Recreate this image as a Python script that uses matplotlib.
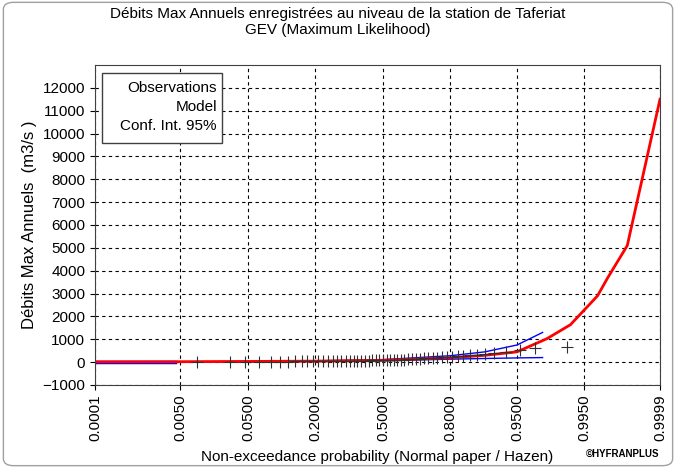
import numpy as np
import matplotlib
matplotlib.use("Agg")
import matplotlib.pyplot as plt
from matplotlib.patches import FancyBboxPatch, Rectangle

plt.rcParams['font.family'] = ['Liberation Sans Narrow', 'Liberation Sans', 'DejaVu Sans']

# probability ticks and their (unequal) spacing on the HYFRAN paper
prob_ticks = [0.0001, 0.005, 0.05, 0.2, 0.5, 0.8, 0.95, 0.995, 0.9999]
tick_labels = ['0.0001', '0.0050', '0.0500', '0.2000', '0.5000', '0.8000', '0.9500', '0.9950', '0.9999']
tick_pos = [95, 180, 248, 315, 383, 450, 517, 584, 660]

# model (GEV) quantiles
model_p = [0.0001, 0.005, 0.05, 0.2, 0.5, 0.8, 0.9, 0.95, 0.982, 0.992, 0.9975, 0.9985, 0.99946, 0.9999]
model_q = [15, 20, 30, 45, 80, 190, 300, 450, 1030, 1640, 2900, 3670, 5100, 11500]

# 95% confidence interval
ci_p = [0.0001, 0.005, 0.05, 0.2, 0.5, 0.8, 0.9, 0.95, 0.979]
ci_up = [5, 15, 30, 55, 110, 280, 450, 750, 1300]
ci_low = [-15, -5, 10, 30, 60, 130, 160, 185, 200]

# observations (sorted), plotted at Hazen positions
obs_q = [10, 14, 18, 20, 22, 25, 27, 30, 32, 35, 37, 40, 42, 45, 48, 50, 52, 55, 58,
         60, 62, 65, 68, 70, 75, 78, 80, 85, 90, 95, 100, 105, 110, 115, 120, 130, 140,
         150, 160, 170, 180, 195, 210, 225, 240, 260, 280, 300, 330, 360, 400, 450, 520,
         600, 680]
n = len(obs_q)
obs_p = [(i + 0.5) / n for i in range(n)]

def logit(p):
    p = np.asarray(p, dtype=float)
    return np.log(p / (1 - p))

lt = logit(prob_ticks)

def fwd(p):
    p = np.clip(np.asarray(p, dtype=float), 1e-9, 1 - 1e-9)
    return np.interp(logit(p), lt, tick_pos)

def inv(x):
    l = np.interp(np.asarray(x, dtype=float), tick_pos, lt)
    return 1 / (1 + np.exp(-l))

fig = plt.figure(figsize=(6.76, 4.68), dpi=100)
fig.patches.append(FancyBboxPatch((0.005, 0.005), 0.99, 0.99, boxstyle="round,pad=0,rounding_size=0.015",
                                  transform=fig.transFigure, fill=False, edgecolor='#a0a0a0', lw=1))
ax = fig.add_axes([95 / 676, 1 - 385 / 468, 565 / 676, 320 / 468])
ax.set_xscale('function', functions=(fwd, inv))

ax.plot(ci_p, ci_up, color='blue', lw=1)
ax.plot(ci_p, ci_low, color='blue', lw=1)
ax.plot([0.0001, 0.004], [0, 0], color='blue', lw=2.5)
ax.plot(model_p, model_q, color='red', lw=2)
ax.plot(obs_p, obs_q, ls='none', marker='+', color='#303030', ms=8, mew=0.8)

ax.set_xlim(0.0001, 0.9999)
ax.set_ylim(-1000, 13000)
ax.set_xticks(prob_ticks)
ax.set_xticklabels(tick_labels, rotation=90, fontsize=11)
ax.minorticks_off()
ax.set_yticks(range(-1000, 12001, 1000))
ax.tick_params(axis='y', labelsize=11)
ax.grid(True, ls=(0, (3, 3)), color='black', lw=0.8)
for s in ax.spines.values():
    s.set_color('#404040')

ax.add_patch(Rectangle((7 / 565, 1 - 78 / 320), 120 / 565, 70 / 320, transform=ax.transAxes,
                       facecolor='white', edgecolor='#404040', lw=1, zorder=5))
ax.text(122 / 565, 1 - 16 / 320, "Observations\nModel\nConf. Int. 95%", transform=ax.transAxes,
        ha='right', va='top', fontsize=11, linespacing=1.45, zorder=6)

ax.set_ylabel("Débits Max Annuels  (m3/s )", fontsize=12)
ax.set_xlabel("Non-exceedance probability (Normal paper / Hazen)", fontsize=11, labelpad=6)
fig.text(0.5, 0.985, "Débits Max Annuels enregistrées au niveau de la station de Taferiat\nGEV (Maximum Likelihood)",
         ha='center', va='top', fontsize=11)
fig.text(0.975, 0.02, "©HYFRANPLUS", ha='right', va='bottom', fontsize=7, fontweight='bold')

fig.savefig("out.png", dpi=100)
